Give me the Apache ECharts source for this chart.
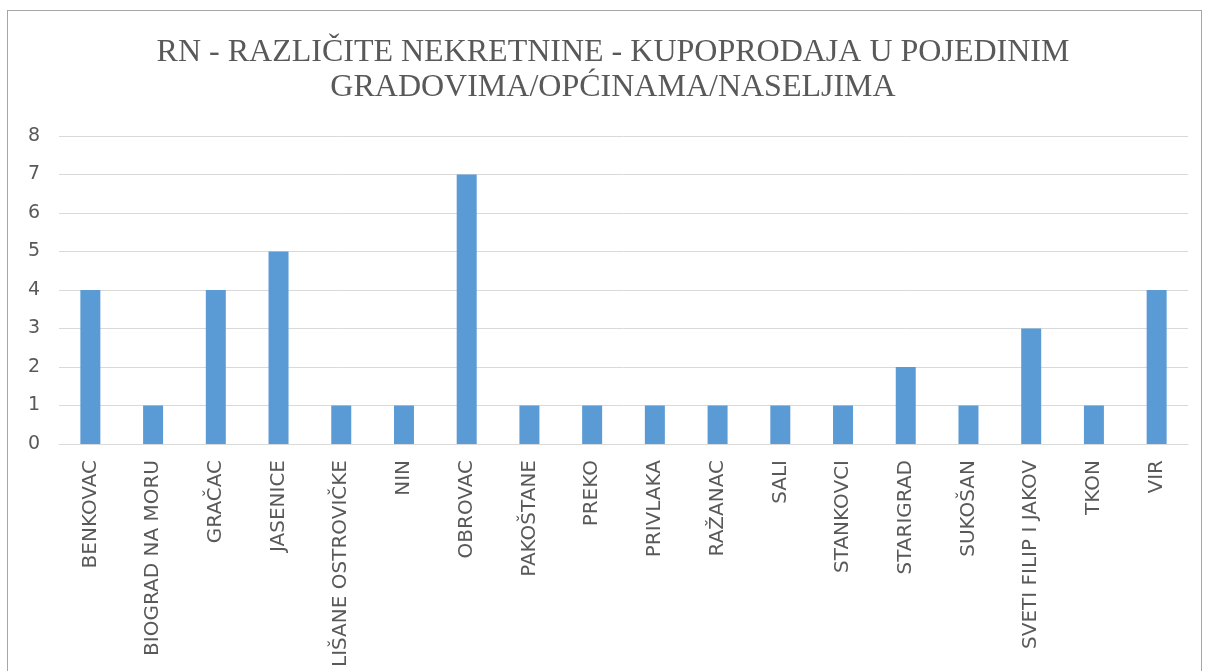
<!DOCTYPE html>
<html>
<head>
<meta charset="utf-8">
<script src="https://cdn.jsdelivr.net/npm/echarts@6/dist/echarts.min.js"></script>
<style>
  html, body { margin: 0; padding: 0; background: #fff; }
  #frame { position: absolute; left: 7px; top: 10px; width: 1193px; height: 700px; border: 1px solid #a6a6a6; }
  #main { position: absolute; left: 0; top: 0; width: 1206px; height: 671px; }
</style>
</head>
<body>
<div id="frame"></div>
<div id="main"></div>
<script>
const categories = ['BENKOVAC', 'BIOGRAD NA MORU', 'GRAČAC', 'JASENICE', 'LIŠANE OSTROVIČKE', 'NIN', 'OBROVAC',
    'PAKOŠTANE', 'PREKO', 'PRIVLAKA', 'RAŽANAC', 'SALI', 'STANKOVCI', 'STARIGRAD', 'SUKOŠAN',
    'SVETI FILIP I JAKOV', 'TKON', 'VIR'];
const values = [4, 1, 4, 5, 1, 1, 7, 1, 1, 1, 1, 1, 1, 2, 1, 3, 1, 4];
const titleLines = ['RN - RAZLIČITE NEKRETNINE - KUPOPRODAJA U POJEDINIM', 'GRADOVIMA/OPĆINAMA/NASELJIMA'];

const chart = echarts.init(document.getElementById('main'));

const option = {
    animation: false,
    title: {
        text: titleLines.join('\n'),
        left: 608,
        textAlign: 'center',
        top: 30,
        textStyle: {
            fontFamily: 'Liberation Serif',
            fontWeight: 'normal',
            fontSize: 32,
            lineHeight: 35,
            color: '#595959'
        }
    },
    grid: {
        left: 59,
        right: 18,
        top: 136,
        bottom: 227
    },
    xAxis: {
        type: 'category',
        data: categories,
        axisLine: { lineStyle: { color: '#d9d9d9' } },
        axisTick: { show: false },
        axisLabel: {
            rotate: 90,
            interval: 0,
            margin: 16,
            fontFamily: 'DejaVu Sans',
            fontSize: 20,
            color: '#595959'
        }
    },
    yAxis: {
        type: 'value',
        min: 0,
        max: 8,
        interval: 1,
        axisLabel: {
            margin: 19,
            fontFamily: 'DejaVu Sans',
            fontSize: 19,
            color: '#595959'
        },
        splitLine: { lineStyle: { color: '#d9d9d9' } }
    },
    series: [
        {
            type: 'bar',
            data: values,
            barWidth: 20,
            itemStyle: { color: '#5b9bd5' }
        }
    ]
};

chart.setOption(option);
</script>
</body>
</html>
